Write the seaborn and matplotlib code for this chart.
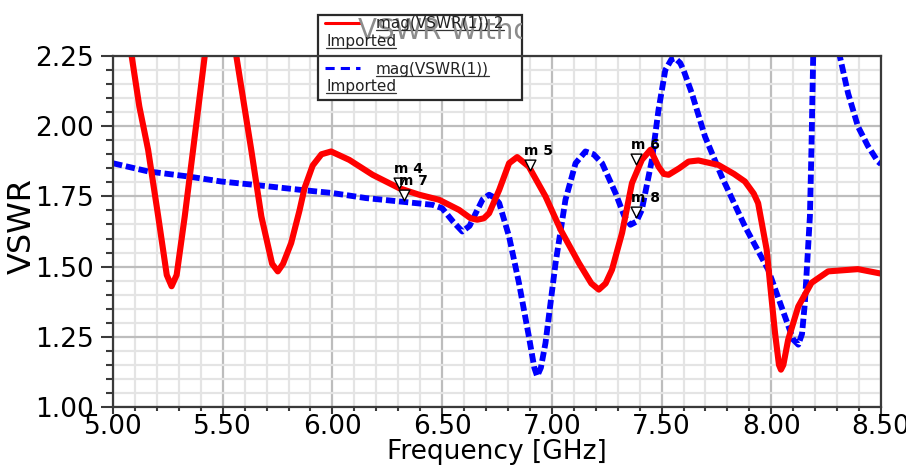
import matplotlib
matplotlib.use("Agg")
import numpy as np
import pandas as pd
import matplotlib.pyplot as plt
import seaborn as sns
from matplotlib.lines import Line2D
from matplotlib.patches import Rectangle
from matplotlib.ticker import MultipleLocator, FormatStrFormatter
from matplotlib.transforms import Bbox, TransformedBbox

# ---------------- data ----------------
red_freq = [5.03, 5.085, 5.12, 5.16, 5.206, 5.245, 5.267, 5.29, 5.327, 5.365, 5.418,
            5.45, 5.49, 5.53, 5.562, 5.63, 5.676, 5.725, 5.751, 5.775, 5.812, 5.85,
            5.873, 5.91, 5.95, 5.994, 6.077, 6.183, 6.305, 6.395, 6.486, 6.577, 6.63,
            6.66, 6.69, 6.714, 6.76, 6.805, 6.842, 6.895, 6.971, 7.04, 7.123, 7.18,
            7.214, 7.245, 7.274, 7.32, 7.365, 7.41, 7.449, 7.486, 7.51, 7.532, 7.58,
            7.623, 7.668, 7.759, 7.83, 7.88, 7.92, 7.94, 7.979, 7.994, 8.017, 8.035,
            8.044, 8.055, 8.077, 8.123, 8.183, 8.259, 8.395, 8.50]
red_vswr = [2.60, 2.25, 2.07, 1.916, 1.679, 1.47, 1.43, 1.47, 1.679, 1.916, 2.25,
            2.45, 2.52, 2.45, 2.25, 1.916, 1.679, 1.51, 1.483, 1.51, 1.584, 1.70,
            1.78, 1.86, 1.90, 1.91, 1.88, 1.827, 1.779, 1.756, 1.738, 1.702, 1.672,
            1.667, 1.672, 1.69, 1.773, 1.868, 1.89, 1.856, 1.75, 1.631, 1.513, 1.44,
            1.418, 1.44, 1.489, 1.62, 1.797, 1.88, 1.916, 1.856, 1.83, 1.827, 1.85,
            1.874, 1.878, 1.862, 1.83, 1.803, 1.76, 1.726, 1.56, 1.442, 1.264, 1.15,
            1.133, 1.15, 1.24, 1.358, 1.442, 1.483, 1.491, 1.475]

blue_freq = [5.0, 5.16, 5.342, 5.494, 5.645, 5.858, 6.0, 6.153, 6.305, 6.456, 6.5,
             6.55, 6.592, 6.625, 6.653, 6.685, 6.714, 6.74, 6.76, 6.805, 6.85, 6.895,
             6.92, 6.933, 6.95, 6.971, 7.017, 7.062, 7.108, 7.153, 7.19, 7.229, 7.29,
             7.33, 7.358, 7.385, 7.41, 7.456, 7.486, 7.517, 7.545, 7.562, 7.585, 7.60,
             7.638, 7.698, 7.774, 7.88, 7.986, 8.062, 8.10, 8.123, 8.14, 8.153, 8.176,
             8.183, 8.191, 8.21, 8.25, 8.29, 8.312, 8.35, 8.395, 8.44, 8.486, 8.50]
blue_vswr = [1.868, 1.839, 1.821, 1.803, 1.791, 1.773, 1.762, 1.744, 1.732, 1.72, 1.708,
             1.66, 1.625, 1.645, 1.69, 1.74, 1.756, 1.745, 1.726, 1.607, 1.442, 1.252,
             1.14, 1.11, 1.14, 1.228, 1.513, 1.738, 1.868, 1.91, 1.90, 1.868, 1.762,
             1.68, 1.649, 1.66, 1.702, 1.88, 2.058, 2.2, 2.238, 2.242, 2.225, 2.20,
             2.117, 1.963, 1.821, 1.643, 1.489, 1.323, 1.24, 1.222, 1.26, 1.37, 1.679,
             1.916, 2.25, 2.9, 3.2, 2.6, 2.25, 2.117, 1.999, 1.93, 1.874, 1.865]

marker_names = ["m 4", "m 7", "m 5", "m 6", "m 8"]
marker_freq = [6.305, 6.327, 6.899, 7.385, 7.385]
marker_vswr = [1.798, 1.756, 1.862, 1.884, 1.695]

x_ticks = [5.00, 5.50, 6.00, 6.50, 7.00, 7.50, 8.00, 8.50]
y_ticks = [1.00, 1.25, 1.50, 1.75, 2.00, 2.25]

red_label = "mag(VSWR(1)) 2"
blue_label = "mag(VSWR(1))"
source_label = "Imported"
title_text = "VSWR Without Slot"

# ---------------- figure ----------------
sns.set_style("white")
plt.rcParams["font.family"] = ["DejaVu Sans"]
plt.rcParams["text.color"] = "black"
plt.rcParams["axes.labelcolor"] = "black"
plt.rcParams["xtick.color"] = "black"
plt.rcParams["ytick.color"] = "black"

W, H = 906, 466
fig = plt.figure(figsize=(W / 100, H / 100), dpi=100)
ax = fig.add_axes([113 / W, 59 / H, 768 / W, 351 / H])


def P(x, y):
    return (x / W, 1 - y / H)


red_df = pd.DataFrame({"freq": red_freq, "vswr": red_vswr})
blue_df = pd.DataFrame({"freq": blue_freq, "vswr": blue_vswr})

sns.lineplot(data=blue_df, x="freq", y="vswr", ax=ax, color="#0000ff", lw=4.2,
             sort=False, estimator=None, zorder=2)
ax.lines[-1].set_dashes([1.6, 0.65])
ax.lines[-1].set_dash_capstyle("butt")
sns.lineplot(data=red_df, x="freq", y="vswr", ax=ax, color="#ff0000", lw=4.4,
             sort=False, estimator=None, zorder=2.2)
ax.lines[-1].set_solid_joinstyle("round")

ax.set_xlim(5.0, 8.5)
ax.set_ylim(1.0, 2.25)
ax.set_xticks(x_ticks)
ax.set_yticks(y_ticks)
ax.xaxis.set_minor_locator(MultipleLocator(0.1))
ax.yaxis.set_minor_locator(MultipleLocator(0.05))
ax.xaxis.set_major_formatter(FormatStrFormatter("%.2f"))
ax.yaxis.set_major_formatter(FormatStrFormatter("%.2f"))

ax.set_axisbelow(True)
ax.grid(which="major", color="#bdbdbd", lw=1.6)
ax.grid(which="minor", color="#e4e4e4", lw=1.6)

for s in ax.spines.values():
    s.set_color("#3a3a3a")
    s.set_linewidth(1.6)

ax.tick_params(axis="y", which="major", direction="out", length=9, width=1.5,
               color="#3a3a3a", labelsize=19, pad=5, left=True)
ax.tick_params(axis="y", which="minor", direction="out", length=5, width=1.5,
               color="#3a3a3a", left=True)
ax.tick_params(axis="x", which="major", direction="out", length=5, width=1.5,
               color="#3a3a3a", labelsize=19, pad=0, bottom=True)
ax.tick_params(axis="x", which="minor", direction="out", length=3, width=1.5,
               color="#3a3a3a", bottom=True)

ax.set_xlabel("Frequency [GHz]", fontsize=19)
ax.xaxis.set_label_coords(0.5, -0.09)
ax.set_ylabel("")
fig.text(*P(22, 226), "VSWR", rotation=90, fontsize=23, ha="center", va="center")

# markers
sns.scatterplot(x=marker_freq, y=marker_vswr, ax=ax, marker="v", s=60,
                facecolor="white", edgecolor="black", linewidth=1.0, zorder=5,
                clip_on=False)
for name, fx, fy in zip(marker_names, marker_freq, marker_vswr):
    ax.annotate(name, (fx, fy), xytext=(-4, 7), textcoords="offset points",
                ha="left", va="baseline", fontsize=10, fontweight="bold",
                color="black", zorder=6)

# legend box (white, over grid, under spines)
bx0, by0, bx1, by1 = 318, 15, 522, 100
box = Rectangle(P(bx0, by1), (bx1 - bx0) / W, (by1 - by0) / H,
                transform=fig.transFigure, facecolor="white",
                edgecolor="#2a2a2a", lw=1.6, zorder=1, clip_on=False)
ax.add_patch(box)

# gray title behind legend, clipped at box
t = fig.text(*P(358, 39), title_text, color="#8c8c8c", fontsize=20,
             va="baseline", ha="left", zorder=2.5)
t.set_clip_box(TransformedBbox(Bbox([P(bx0, by1), P(bx1, by0)]), fig.transFigure))
t.set_clip_on(True)

# legend entries
fig.add_artist(Line2D([325 / W, 360 / W], [P(0, 23)[1]] * 2, color="#ff0000",
                      lw=2.2, transform=fig.transFigure))
fig.add_artist(Line2D([325 / W, 360 / W], [P(0, 68)[1]] * 2, color="#0000ff",
                      lw=2.2, dashes=[3, 2], transform=fig.transFigure))

entries = [(red_label, 376, 28), (source_label, 326, 46),
           (blue_label, 376, 74), (source_label, 326, 91)]
legend_texts = []
for txt, x, yb in entries:
    legend_texts.append(fig.text(*P(x, yb), txt, fontsize=11, color="#222222",
                                 va="baseline", ha="left", zorder=4))

fig.canvas.draw()
r = fig.canvas.get_renderer()
for tt in legend_texts:
    bb = tt.get_window_extent(renderer=r)
    yb = bb.y0 + 1
    fig.add_artist(Line2D([bb.x0 / W, bb.x1 / W], [yb / H, yb / H], color="#333333",
                          lw=0.9, transform=fig.transFigure))

fig.savefig("out.png", dpi=100)
